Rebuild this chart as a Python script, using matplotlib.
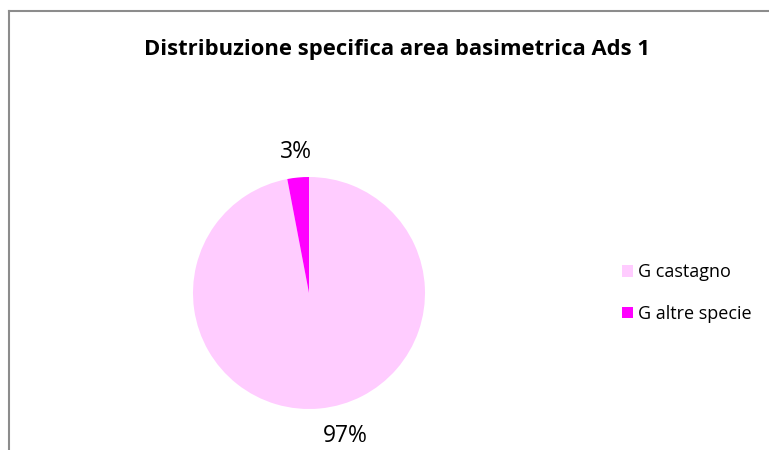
import matplotlib.pyplot as plt
from matplotlib.lines import Line2D

# basal area share by species
labels = ['G castagno', 'G altre specie']
shares = [97, 3]
colors = ['#FFCCFF', '#FF00FF']

plt.rcParams['font.family'] = ['Open Sans', 'DejaVu Sans']

W, H = 769, 450
fig = plt.figure(figsize=(W / 100, H / 100), dpi=100)

# chart area frame (left and top edges only)
fig.add_artist(Line2D([9 / W, 9 / W], [0, 1 - 11 / H], color='#8c8c8c', lw=1.5))
fig.add_artist(Line2D([9 / W, 1], [1 - 11 / H, 1 - 11 / H], color='#8c8c8c', lw=1.5))

fig.text(397 / W, 1 - 50 / H, 'Distribuzione specifica area basimetrica Ads 1',
         ha='center', va='center', fontsize=15.8, fontweight='bold')

# pie centred at (309, 293) px with radius 116 px
cx, cy, r = 309, 293, 116
ax = fig.add_axes([(cx - r) / W, (H - cy - r) / H, 2 * r / W, 2 * r / H])
wedges, _, autotexts = ax.pie(shares, colors=colors, startangle=90, counterclock=False,
                              autopct='%1.0f%%', pctdistance=1.24,
                              textprops={'fontsize': 16.5})
# large slice label sits to the right of its anchor
autotexts[0].set_ha('left')
autotexts[1].set_y(autotexts[1].get_position()[1] - 0.02)
ax.set_xlim(-1, 1)
ax.set_ylim(-1, 1)
ax.set_aspect('equal')
ax.axis('off')

fig.legend(wedges, labels, loc='center left', bbox_to_anchor=(606 / W, 1 - 293 / H),
           frameon=False, fontsize=13, handlelength=0.6, handleheight=0.6,
           handletextpad=0.3, labelspacing=1.3)

fig.savefig('out.png', dpi=100)
